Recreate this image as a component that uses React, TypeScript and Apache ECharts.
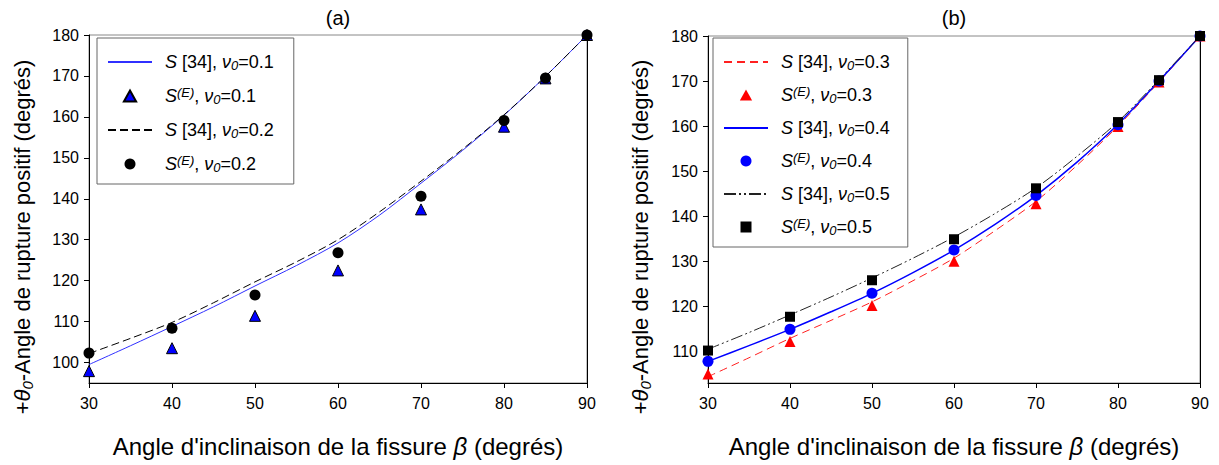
import React, { useEffect, useRef } from "react";
import * as echarts from "echarts";

// ---- data ----
const X_LINE = [30, 35, 40, 45, 50, 55, 60, 65, 70, 75, 80, 85, 90];
const X_PTS = [30, 40, 50, 60, 70, 80, 85, 90];
const Y_TICKS_A = [100, 110, 120, 130, 140, 150, 160, 170, 180];
const Y_TICKS_B = [110, 120, 130, 140, 150, 160, 170, 180];

// panel (a)
const A_S_NU01 = [99.5, 104.1, 108.8, 113.6, 118.7, 123.7, 129.2, 136.0, 143.8, 151.8, 160.4, 169.9, 180];
const A_S_NU02 = [102.2, 105.9, 109.8, 114.6, 119.7, 124.6, 130.0, 136.8, 144.3, 152.1, 160.5, 169.9, 180];
const A_E_NU01 = [97.9, 103.5, 111.4, 122.5, 137.4, 157.6, 169.4, 180];
const A_E_NU02 = [102.3, 108.4, 116.5, 126.8, 140.6, 159.1, 169.5, 180];

// panel (b)
const B_S_NU03 = [104.4, 108.6, 112.9, 116.9, 121.0, 125.7, 130.7, 136.8, 143.3, 151.3, 160.0, 169.8, 180];
const B_S_NU04 = [107.8, 111.3, 114.9, 118.8, 122.9, 127.5, 132.5, 138.2, 144.6, 152.0, 160.4, 170.0, 180];
const B_S_NU05 = [110.5, 114.2, 118.1, 122.1, 126.3, 130.7, 135.4, 140.6, 146.3, 153.3, 161.0, 170.3, 180];
const B_E_NU03 = [105.0, 112.2, 120.2, 130.0, 142.8, 159.9, 169.8, 180];
const B_E_NU04 = [107.8, 114.9, 122.9, 132.5, 144.6, 160.3, 170.0, 180];
const B_E_NU05 = [110.2, 117.7, 125.8, 134.9, 146.2, 160.9, 170.2, 180];

const LEGEND_TEXT: Record<string, string> = {
  aS1: "{it|S} [34], {it|ν}{sub|0}=0.1",
  aE1: "{it|S}{sup|(E)}, {it|ν}{sub|0}=0.1",
  aS2: "{it|S} [34], {it|ν}{sub|0}=0.2",
  aE2: "{it|S}{sup|(E)}, {it|ν}{sub|0}=0.2",
  bS3: "{it|S} [34], {it|ν}{sub|0}=0.3",
  bE3: "{it|S}{sup|(E)}, {it|ν}{sub|0}=0.3",
  bS4: "{it|S} [34], {it|ν}{sub|0}=0.4",
  bE4: "{it|S}{sup|(E)}, {it|ν}{sub|0}=0.4",
  bS5: "{it|S} [34], {it|ν}{sub|0}=0.5",
  bE5: "{it|S}{sup|(E)}, {it|ν}{sub|0}=0.5",
};

const FONT = "'Liberation Sans', Arial, sans-serif";
const TRI_ICON = "path://M5,0 L10,9 L0,9 Z";
const SQ_ICON = "path://M0,0 L10,0 L10,10 L0,10 Z";

const zip = (xs: number[], ys: number[]) => xs.map((x, i) => [x, ys[i]]);

export default function App() {
  const ref = useRef<HTMLDivElement>(null);
  useEffect(() => {
    if (!ref.current) return;
    const chart = echarts.init(ref.current, null, { renderer: "svg" });

    const legendRich = {
      it: { fontStyle: "italic", fontSize: 18, lineHeight: 20, fontFamily: FONT, color: "#000" },
      sub: { fontStyle: "italic", fontSize: 13, lineHeight: 11, verticalAlign: "bottom", fontFamily: FONT, color: "#000" },
      sup: { fontStyle: "italic", fontSize: 13, lineHeight: 10, verticalAlign: "top", fontFamily: FONT, color: "#000" },
      pad: { width: 8 },
    };

    const nameRich = {
      it: { fontStyle: "italic", fontSize: 22, lineHeight: 26, fontFamily: FONT, fill: "#000", color: "#000" },
      sub: { fontStyle: "italic", fontSize: 15, lineHeight: 13, verticalAlign: "bottom", fontFamily: FONT, fill: "#000", color: "#000" },
    };
    const xNameRich = {
      it: { fontStyle: "italic", fontSize: 24, lineHeight: 28, fontFamily: FONT, color: "#000" },
    };

    const xAxisBase = (gridIndex: number) => ({
      type: "value",
      gridIndex,
      min: 30,
      max: 90,
      interval: 10,
      name: "Angle d'inclinaison de la fissure {it|β} (degrés)",
      nameLocation: "middle",
      nameGap: 49,
      nameTextStyle: { fontSize: 24, fontFamily: FONT, color: "#000", lineHeight: 28, rich: xNameRich },
      axisLine: { show: true, lineStyle: { color: "#000", width: 1 } },
      axisTick: { show: true, inside: false, length: 5, lineStyle: { color: "#000" } },
      axisLabel: { fontSize: 16, fontFamily: FONT, color: "#000", margin: 12 },
      splitLine: { show: false },
    });

    const yAxisBase = (gridIndex: number, min: number, ticks: number[]) => ({
      type: "value",
      gridIndex,
      min,
      max: 180,
      axisLine: { show: true, lineStyle: { color: "#000", width: 1 } },
      axisTick: { show: true, inside: false, length: 5, lineStyle: { color: "#000" }, customValues: ticks },
      axisLabel: { fontSize: 16, fontFamily: FONT, color: "#000", margin: 10, customValues: ticks },
      splitLine: { show: false },
    });

    const yRight = (gridIndex: number, min: number) => ({
      type: "value",
      gridIndex,
      position: "right",
      min,
      max: 180,
      axisLine: { show: true, lineStyle: { color: "#000", width: 1 } },
      axisTick: { show: false },
      axisLabel: { show: false },
      splitLine: { show: false },
    });

    const legendBase = {
      orient: "vertical",
      top: 38,
      itemWidth: 44,
      itemHeight: 11,
      itemGap: 14,
      padding: [14, 20, 10, 10],
      backgroundColor: "#fff",
      borderColor: "#666",
      borderWidth: 1,
      borderRadius: 0,
      symbolKeepAspect: true,
      formatter: (name: string) => "{pad|}" + LEGEND_TEXT[name],
      textStyle: {
        fontSize: 18,
        fontFamily: FONT,
        color: "#000",
        lineHeight: 20,
        rich: legendRich,
      },
    };

    const hideSym = { opacity: 0 };
    const lineItem = (name: string) => ({ name, itemStyle: hideSym });

    const lineSeries = (name: string, xi: number, ys: number[], color: string, type: any, width = 1) => ({
      type: "line",
      name,
      xAxisIndex: xi,
      yAxisIndex: xi * 2,
      data: zip(X_LINE, ys),
      smooth: 0.3,
      symbol: "none",
      lineStyle: { color, width, type },
      itemStyle: { color },
      z: 2,
    });

    const scatterSeries = (name: string, xi: number, ys: number[], symbol: string, color: string, size: number, border?: string) => ({
      type: "scatter",
      name,
      xAxisIndex: xi,
      yAxisIndex: xi * 2,
      data: zip(X_PTS, ys),
      symbol,
      symbolSize: size,
      symbolKeepAspect: true,
      itemStyle: border ? { color, borderColor: border, borderWidth: 1, opacity: 1 } : { color, opacity: 1 },
      z: 5,
    });

    chart.setOption({
      animation: false,
      backgroundColor: "#fff",
      textStyle: { fontFamily: FONT },
      grid: [
        { left: 89, top: 35, width: 498, height: 354, show: true, borderColor: "#888", borderWidth: 1, backgroundColor: "transparent" },
        { left: 708, top: 36, width: 492, height: 353, show: true, borderColor: "#888", borderWidth: 1, backgroundColor: "transparent" },
      ],
      xAxis: [xAxisBase(0), xAxisBase(1)],
      yAxis: [yAxisBase(0, 95, Y_TICKS_A), yRight(0, 95), yAxisBase(1, 103, Y_TICKS_B), yRight(1, 103)],
      legend: [
        {
          ...legendBase,
          left: 97,
          data: [lineItem("aS1"), { name: "aE1", icon: TRI_ICON }, lineItem("aS2"), { name: "aE2", icon: "circle" }],
        },
        {
          ...legendBase,
          left: 713,
          itemGap: 13,
          padding: [14, 18, 10, 10],
          data: [
            lineItem("bS3"), { name: "bE3", icon: TRI_ICON },
            lineItem("bS4"), { name: "bE4", icon: "circle" },
            lineItem("bS5"), { name: "bE5", icon: SQ_ICON },
          ],
        },
      ],
      graphic: [
        { type: "text", x: 338, y: 18, style: { text: "(a)", fontSize: 20, fontFamily: FONT, fill: "#000", align: "center", verticalAlign: "middle" } },
        { type: "text", x: 954, y: 18, style: { text: "(b)", fontSize: 20, fontFamily: FONT, fill: "#000", align: "center", verticalAlign: "middle" } },
        {
          type: "text", x: 22, y: 237, rotation: Math.PI / 2,
          style: { text: "+{it|θ}{sub|0}-Angle de rupture positif (degrés)", fontSize: 22, fontFamily: FONT, fill: "#000", align: "center", verticalAlign: "middle", lineHeight: 26, rich: nameRich },
        },
        {
          type: "text", x: 640, y: 237, rotation: Math.PI / 2,
          style: { text: "+{it|θ}{sub|0}-Angle de rupture positif (degrés)", fontSize: 22, fontFamily: FONT, fill: "#000", align: "center", verticalAlign: "middle", lineHeight: 26, rich: nameRich },
        },
      ],
      series: [
        lineSeries("aS1", 0, A_S_NU01, "#3030ff", "solid"),
        lineSeries("aS2", 0, A_S_NU02, "#000", [8, 4]),
        scatterSeries("aE1", 0, A_E_NU01, "triangle", "#0000ff", 11, "#000"),
        scatterSeries("aE2", 0, A_E_NU02, "circle", "#000", 11),
        lineSeries("bS3", 1, B_S_NU03, "#ff2020", [8, 5]),
        lineSeries("bS4", 1, B_S_NU04, "#0000ff", "solid", 1.5),
        lineSeries("bS5", 1, B_S_NU05, "#222", [12, 3, 2, 3, 2, 3]),
        scatterSeries("bE3", 1, B_E_NU03, "triangle", "#ff0000", 11),
        scatterSeries("bE4", 1, B_E_NU04, "circle", "#0000ff", 11),
        scatterSeries("bE5", 1, B_E_NU05, "rect", "#000", 10),
      ],
    });
    return () => chart.dispose();
  }, []);
  return <div ref={ref} style={{ position: "absolute", left: 0, top: 0, width: 1219, height: 465 }} />;
}
